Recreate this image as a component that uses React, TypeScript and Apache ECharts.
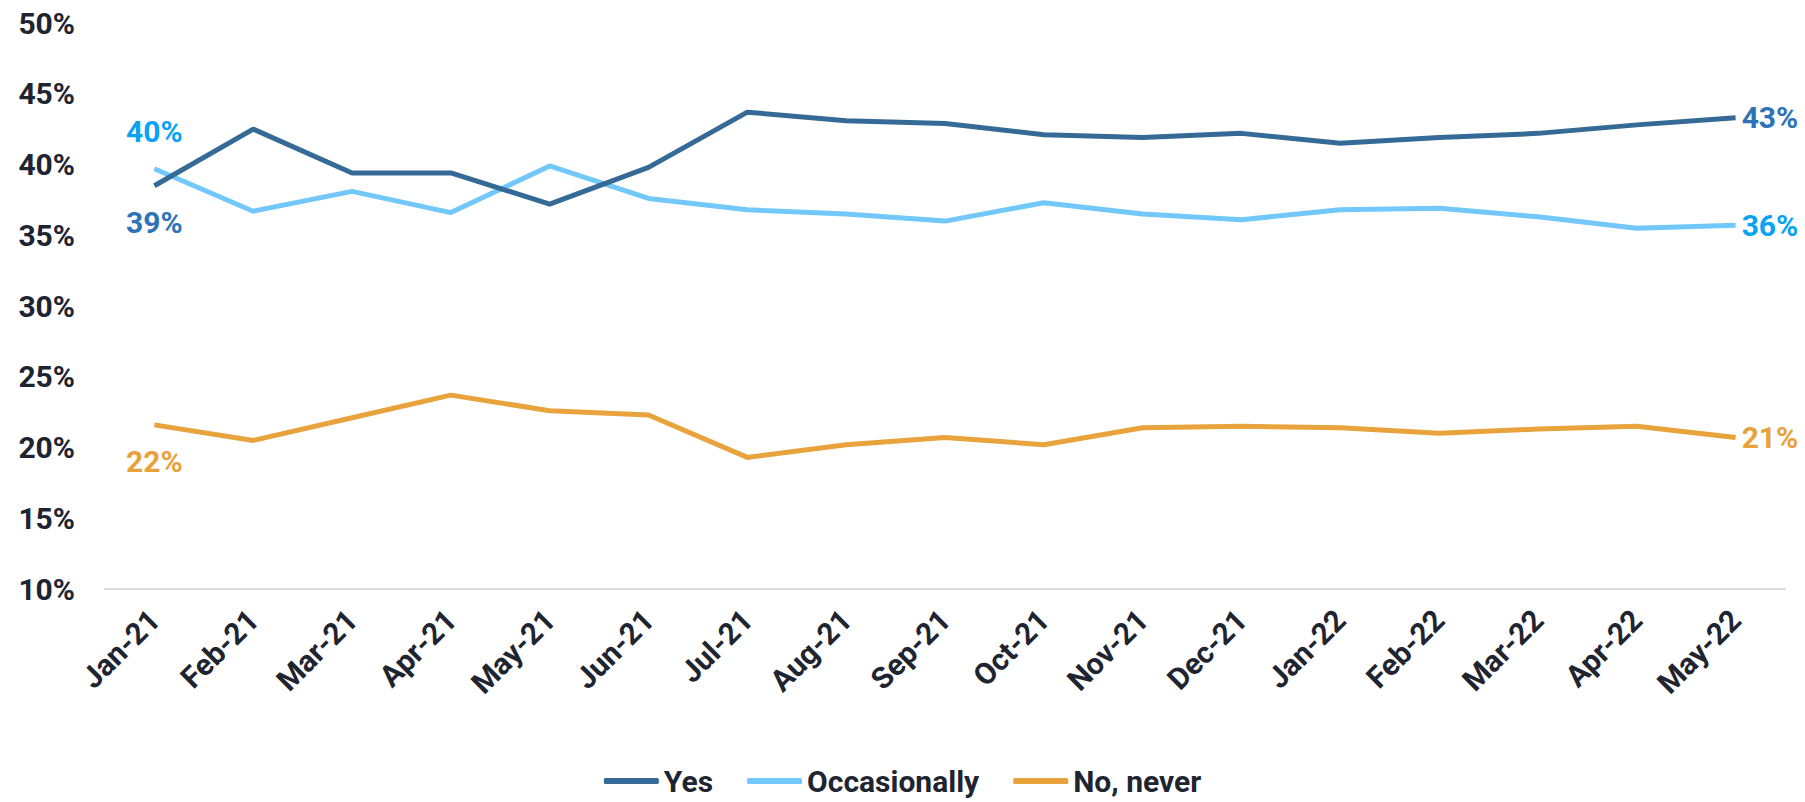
import React, { useEffect, useRef } from "react";
import * as echarts from "echarts";

const months = [
  "Jan-21", "Feb-21", "Mar-21", "Apr-21", "May-21", "Jun-21", "Jul-21", "Aug-21", "Sep-21",
  "Oct-21", "Nov-21", "Dec-21", "Jan-22", "Feb-22", "Mar-22", "Apr-22", "May-22",
];

const yesValues = [38.5, 42.5, 39.4, 39.4, 37.2, 39.8, 43.7, 43.1, 42.9, 42.1, 41.9, 42.2, 41.5, 41.9, 42.2, 42.8, 43.3];
const occasionallyValues = [39.7, 36.7, 38.1, 36.6, 39.9, 37.6, 36.8, 36.5, 36.0, 37.3, 36.5, 36.1, 36.8, 36.9, 36.3, 35.5, 35.7];
const neverValues = [21.6, 20.5, 22.1, 23.7, 22.6, 22.3, 19.3, 20.2, 20.7, 20.2, 21.4, 21.5, 21.4, 21.0, 21.3, 21.5, 20.7];

const FONT = "Roboto, 'Noto Sans', sans-serif";
const TEXT = "#1e2430";

// Label only the first and last points: first one above/below, last one to the right.
function withEndLabels(values: number[], firstPos: "top" | "bottom", labelColor: string) {
  const last = values.length - 1;
  return values.map((v, i) => {
    if (i === 0 || i === last) {
      return {
        value: v,
        label: {
          show: true,
          position: i === 0 ? firstPos : "right",
          distance: i === 0 ? 22 : 6,
          color: labelColor,
          fontFamily: FONT,
          fontWeight: "bold",
          fontSize: 30,
          formatter: (p: any) => Math.round(p.value) + "%",
        },
      };
    }
    return { value: v };
  });
}

function lineSeries(name: string, values: number[], color: string, firstPos: "top" | "bottom", labelColor: string, z: number) {
  return {
    name,
    type: "line",
    symbol: "circle",
    symbolSize: 0.1,
    showSymbol: true,
    showAllSymbol: true,
    data: withEndLabels(values, firstPos, labelColor),
    lineStyle: { color, width: 5 },
    itemStyle: { color },
    labelLayout: { hideOverlap: false },
    z,
  };
}

export default function App() {
  const ref = useRef<HTMLDivElement>(null);

  useEffect(() => {
    if (!ref.current) return;
    const chart = echarts.init(ref.current, undefined, { renderer: "svg" });
    chart.setOption({
      animation: false,
      backgroundColor: "#ffffff",
      grid: { left: 105, right: 20, top: 23, bottom: 213, containLabel: false },
      legend: {
        bottom: 6,
        left: "center",
        padding: 0,
        icon: "roundRect",
        itemWidth: 55,
        itemHeight: 6,
        itemGap: 34,
        textStyle: { fontFamily: FONT, fontWeight: "bold", fontSize: 30, lineHeight: 30, color: TEXT },
        data: ["Yes", "Occasionally", "No, never"],
      },
      xAxis: {
        type: "category",
        data: months,
        boundaryGap: true,
        axisLine: { show: true, lineStyle: { color: "#d6dce4", width: 2 } },
        axisTick: { show: false },
        axisLabel: {
          rotate: 45,
          margin: 26,
          interval: 0,
          color: TEXT,
          fontFamily: FONT,
          fontWeight: "bold",
          fontSize: 30,
        },
      },
      yAxis: {
        type: "value",
        min: 10,
        max: 50,
        interval: 5,
        axisLine: { show: false },
        axisTick: { show: false },
        splitLine: { show: false },
        axisLabel: {
          formatter: "{value}%",
          margin: 30,
          color: TEXT,
          fontFamily: FONT,
          fontWeight: "bold",
          fontSize: 30,
        },
      },
      series: [
        lineSeries("Yes", yesValues, "#356a97", "bottom", "#2e73b7", 3),
        lineSeries("Occasionally", occasionallyValues, "#72c8fb", "top", "#0aa3f3", 2),
        lineSeries("No, never", neverValues, "#e8a33d", "bottom", "#e8a23c", 2),
      ],
    });
    return () => chart.dispose();
  }, []);

  return (
    <div
      ref={ref}
      style={{ position: "fixed", left: 0, top: 0, width: 1805, height: 802, background: "#fff" }}
    />
  );
}
